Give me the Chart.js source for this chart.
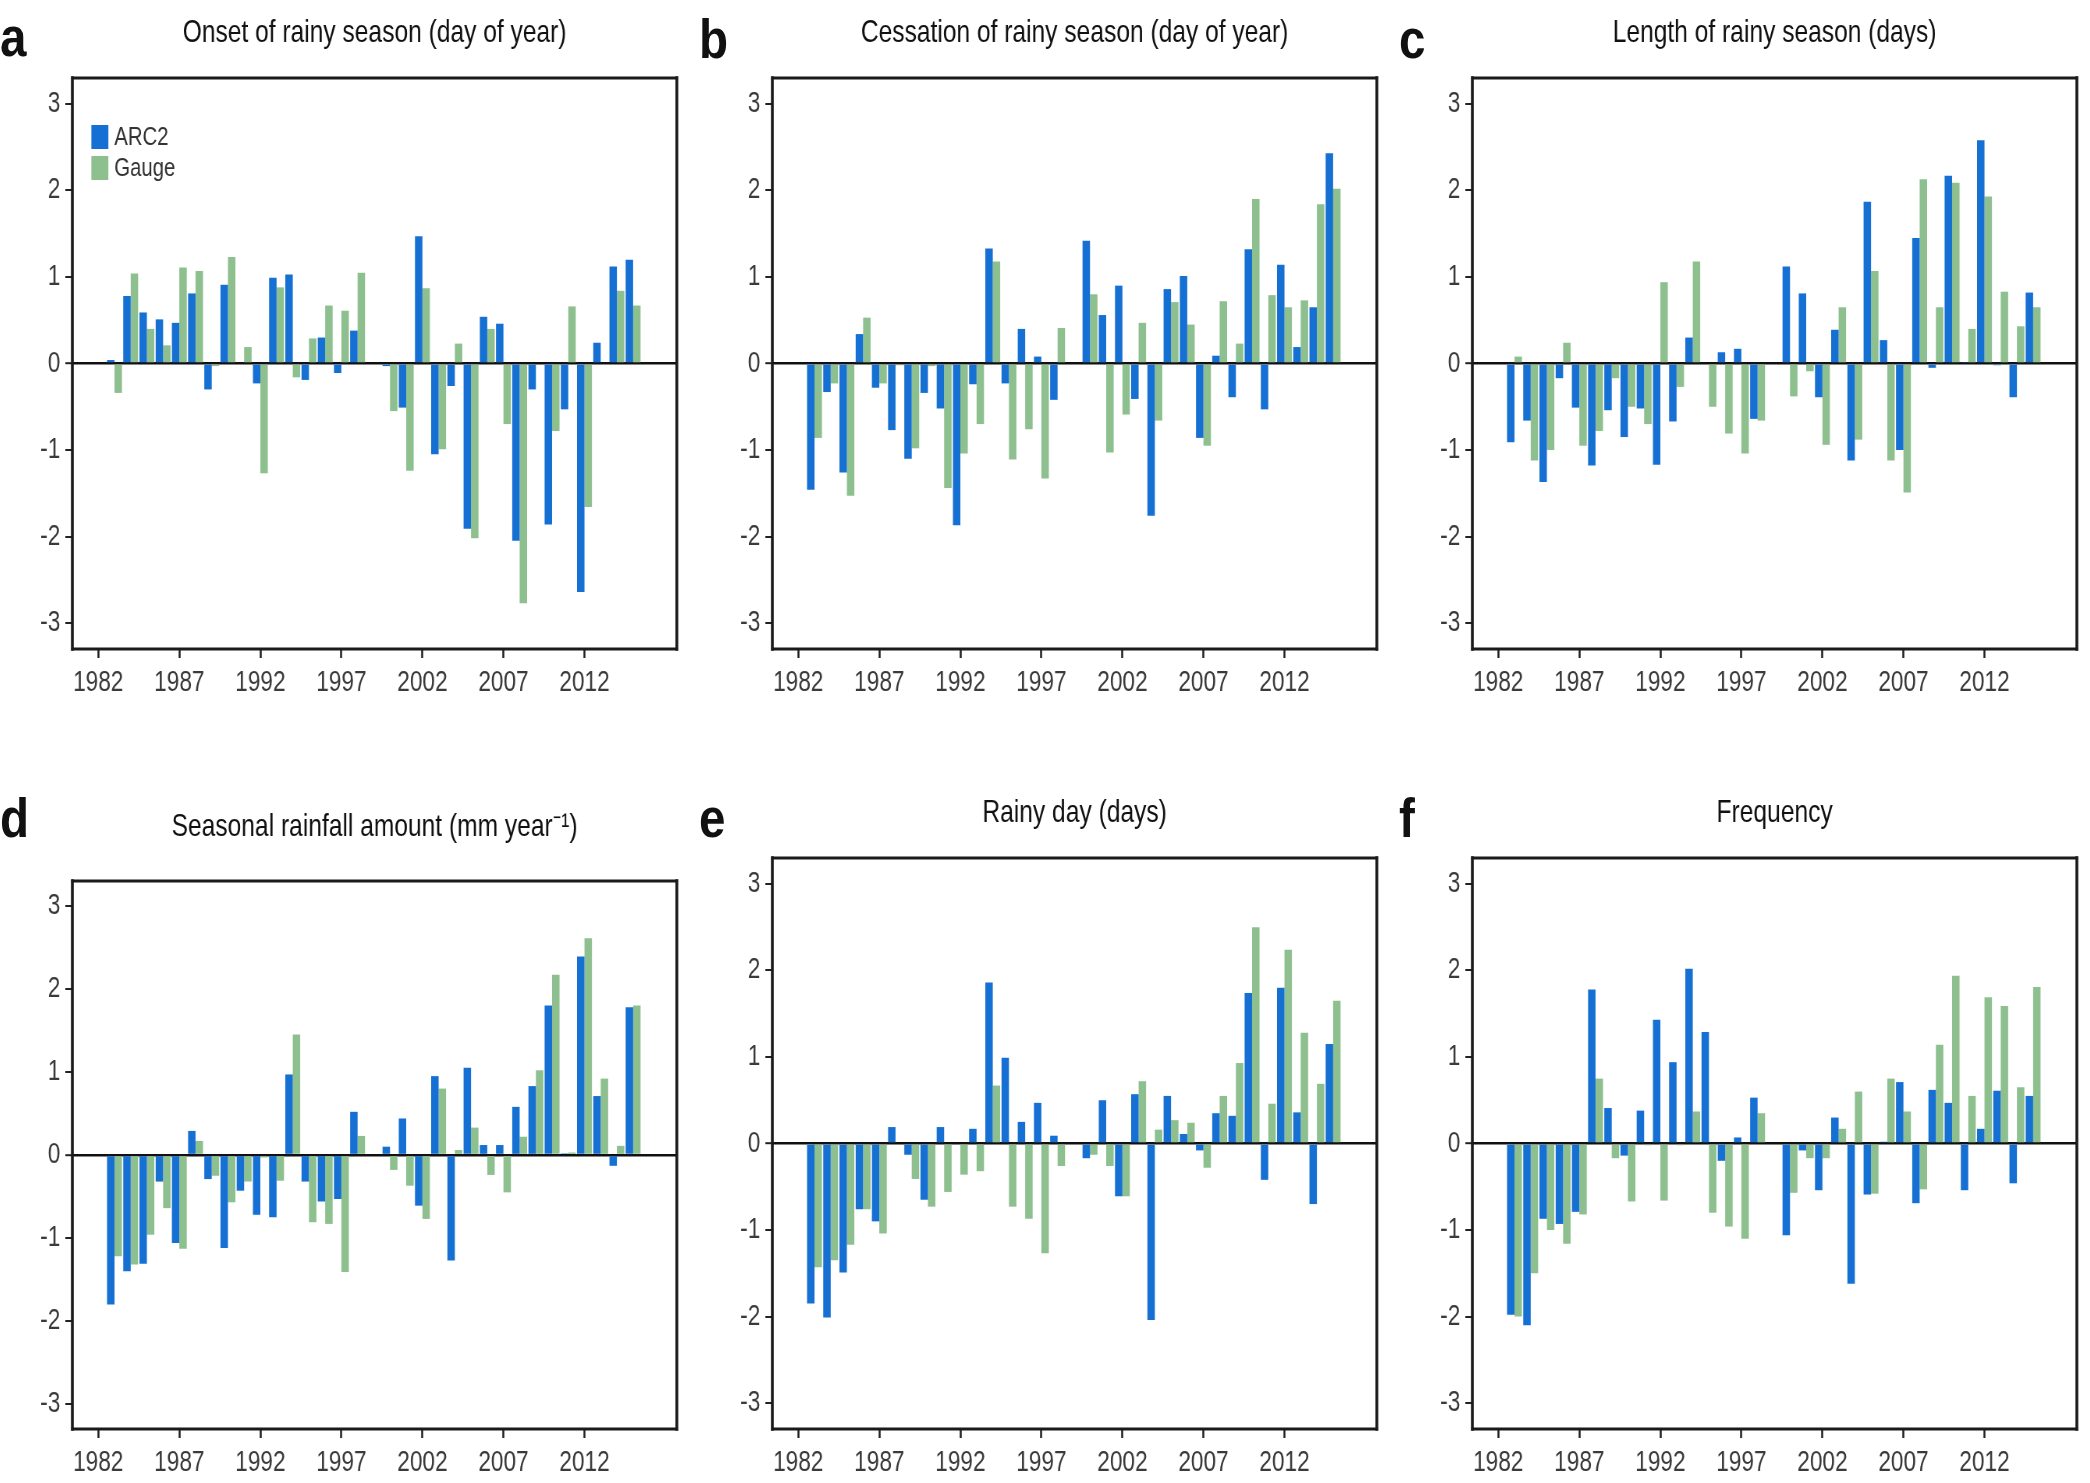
<!DOCTYPE html>
<html>
<head>
<meta charset="utf-8">
<script src="https://cdn.jsdelivr.net/npm/chart.js@4.4.1/dist/chart.umd.min.js"></script>
<style>
  body { margin: 0; background: #fff; width: 2090px; height: 1483px; position: relative; overflow: hidden; font-family: "Liberation Sans", Arial, sans-serif; }
  canvas { position: absolute; }
  .letter { position: absolute; font-weight: bold; font-size: 56px; line-height: 56px; color: #111; transform: scaleX(0.85); transform-origin: left top; }
</style>
</head>
<body>
<div class="letter" style="left:0px;top:9px">a</div>
<div class="letter" style="left:699px;top:11px">b</div>
<div class="letter" style="left:1399px;top:11px">c</div>
<div class="letter" style="left:0px;top:790px">d</div>
<div class="letter" style="left:699px;top:790px">e</div>
<div class="letter" style="left:1399px;top:790px">f</div>

<canvas id="chartA"></canvas>
<canvas id="chartB"></canvas>
<canvas id="chartC"></canvas>
<canvas id="chartD"></canvas>
<canvas id="chartE"></canvas>
<canvas id="chartF"></canvas>

<script>
// data, 1983-2015 standardized anomalies
const years = [1983, 1984, 1985, 1986, 1987, 1988, 1989, 1990, 1991, 1992, 1993, 1994, 1995, 1996, 1997, 1998, 1999,
  2000, 2001, 2002, 2003, 2004, 2005, 2006, 2007, 2008, 2009, 2010, 2011, 2012, 2013, 2014, 2015];
const yearTicks = [1982, 1987, 1992, 1997, 2002, 2007, 2012];
const valueTicks = [-3, -2, -1, 0, 1, 2, 3];
const seriesNames = ['ARC2', 'Gauge'];

const onsetArc2 = [0.04, 0.78, 0.59, 0.51, 0.47, 0.81, -0.30, 0.91, 0, -0.23, 0.99, 1.03, -0.19, 0.30, -0.11, 0.38, 0,
  -0.03, -0.51, 1.47, -1.05, -0.26, -1.91, 0.54, 0.46, -2.05, -0.30, -1.86, -0.53, -2.64, 0.24, 1.12, 1.20];
const onsetGauge = [-0.34, 1.04, 0.40, 0.21, 1.11, 1.07, -0.03, 1.23, 0.19, -1.27, 0.88, -0.16, 0.29, 0.67, 0.61, 1.05, 0,
  -0.55, -1.24, 0.87, -0.99, 0.23, -2.02, 0.40, -0.70, -2.77, 0, -0.78, 0.66, -1.66, 0, 0.84, 0.67];

const cessationArc2 = [-1.46, -0.33, -1.26, 0.34, -0.28, -0.77, -1.10, -0.34, -0.52, -1.87, -0.24, 1.33, -0.23, 0.40, 0.08, -0.42, 0,
  1.42, 0.56, 0.90, -0.41, -1.76, 0.86, 1.01, -0.86, 0.09, -0.39, 1.32, -0.53, 1.14, 0.19, 0.65, 2.43];
const cessationGauge = [-0.86, -0.23, -1.53, 0.53, -0.23, -0.02, -0.98, -0.03, -1.44, -1.04, -0.70, 1.18, -1.11, -0.76, -1.33, 0.41, 0,
  0.80, -1.03, -0.59, 0.47, -0.66, 0.71, 0.45, -0.95, 0.72, 0.23, 1.90, 0.79, 0.65, 0.73, 1.84, 2.02];

const lengthArc2 = [-0.91, -0.66, -1.37, -0.17, -0.51, -1.18, -0.54, -0.85, -0.52, -1.17, -0.67, 0.30, 0, 0.13, 0.17, -0.64, 0,
  1.12, 0.81, -0.39, 0.39, -1.12, 1.87, 0.27, -1.00, 1.45, -0.05, 2.17, 0.01, 2.58, -0.02, -0.39, 0.82];
const lengthGauge = [0.08, -1.12, -1.00, 0.24, -0.95, -0.78, -0.17, -0.50, -0.70, 0.94, -0.27, 1.18, -0.50, -0.81, -1.04, -0.66, 0,
  -0.38, -0.09, -0.94, 0.65, -0.88, 1.07, -1.12, -1.49, 2.13, 0.65, 2.09, 0.40, 1.93, 0.83, 0.43, 0.65];

const rainfallArc2 = [-1.80, -1.40, -1.31, -0.32, -1.06, 0.29, -0.29, -1.12, -0.43, -0.72, -0.75, 0.97, -0.32, -0.56, -0.53, 0.52, 0,
  0.10, 0.44, -0.61, 0.95, -1.27, 1.05, 0.12, 0.12, 0.58, 0.83, 1.80, 0.02, 2.39, 0.71, -0.13, 1.78];
const rainfallGauge = [-1.22, -1.32, -0.96, -0.64, -1.13, 0.17, -0.25, -0.57, -0.32, -0.03, -0.31, 1.45, -0.81, -0.83, -1.41, 0.23, 0,
  -0.18, -0.37, -0.77, 0.80, 0.06, 0.33, -0.24, -0.45, 0.22, 1.02, 2.17, 0.03, 2.61, 0.92, 0.11, 1.80];

const rainyArc2 = [-1.85, -2.01, -1.49, -0.76, -0.90, 0.19, -0.13, -0.65, 0.19, 0, 0.17, 1.86, 0.99, 0.25, 0.47, 0.09, 0,
  -0.17, 0.50, -0.61, 0.57, -2.04, 0.55, 0.11, -0.08, 0.35, 0.32, 1.74, -0.42, 1.80, 0.36, -0.70, 1.15];
const rainyGauge = [-1.43, -1.35, -1.17, -0.76, -1.04, 0, -0.41, -0.73, -0.56, -0.36, -0.32, 0.67, -0.73, -0.87, -1.27, -0.26, 0,
  -0.13, -0.26, -0.61, 0.72, 0.16, 0.27, 0.24, -0.28, 0.55, 0.93, 2.50, 0.46, 2.24, 1.28, 0.69, 1.65];

const freqArc2 = [-1.98, -2.10, -0.87, -0.93, -0.79, 1.78, 0.41, -0.14, 0.38, 1.43, 0.94, 2.02, 1.29, -0.20, 0.07, 0.53, 0,
  -1.06, -0.08, -0.54, 0.30, -1.62, -0.59, 0.02, 0.71, -0.69, 0.62, 0.47, -0.54, 0.17, 0.61, -0.46, 0.55];
const freqGauge = [-2.00, -1.50, -1.00, -1.16, -0.82, 0.75, -0.17, -0.67, -0.02, -0.66, -0.02, 0.37, -0.80, -0.96, -1.10, 0.35, 0,
  -0.57, -0.17, -0.17, 0.17, 0.60, -0.58, 0.75, 0.37, -0.53, 1.14, 1.94, 0.55, 1.69, 1.59, 0.65, 1.81];

const blue = '#1670d3';
const green = '#8dc08e';
const FONT = '"Liberation Sans", Arial, sans-serif';
// the original lettering is condensed: canvases are drawn wider and squeezed back by css
const SQ = 0.78;

// frame, title and (optional) legend drawn around the chart area
const panelDeco = {
  id: 'panelDeco',
  afterDraw(chart, args, opts) {
    const ctx = chart.ctx;
    const a = chart.chartArea;
    ctx.save();
    ctx.strokeStyle = '#1a1a1a';
    ctx.lineCap = 'square';
    ctx.lineWidth = 2.8;
    ctx.beginPath();
    ctx.moveTo(a.left, a.top); ctx.lineTo(a.right, a.top);
    ctx.moveTo(a.left, a.bottom); ctx.lineTo(a.right, a.bottom);
    ctx.stroke();
    ctx.lineWidth = 2.8 / SQ;
    ctx.beginPath();
    ctx.moveTo(a.left, a.top); ctx.lineTo(a.left, a.bottom);
    ctx.moveTo(a.right, a.top); ctx.lineTo(a.right, a.bottom);
    ctx.stroke();

    ctx.fillStyle = '#111';
    ctx.font = '31.5px ' + FONT;
    ctx.textAlign = 'center';
    ctx.textBaseline = 'middle';
    ctx.fillText(opts.title, (a.left + a.right) / 2, a.top - opts.gap);

    if (opts.legend) {
      ctx.font = '26px ' + FONT;
      ctx.textAlign = 'left';
      chart.data.datasets.forEach((ds, i) => {
        const y = a.top + 47 + i * 31;
        ctx.fillStyle = ds.backgroundColor;
        ctx.fillRect(a.left + 19 / SQ, y, 17 / SQ, 24);
        ctx.fillStyle = '#333';
        ctx.fillText(ds.label, a.left + 42 / SQ, y + 13);
      });
    }
    ctx.restore();
  }
};

function makePanel(id, frame, title, gap, arc2, gauge, legend) {
  const canvas = document.getElementById(id);
  const w = frame.r - frame.l + 90;
  const h = frame.b - frame.t + 160;
  canvas.width = Math.round(w / SQ);
  canvas.height = h;
  canvas.style.left = (frame.l - 80) + 'px';
  canvas.style.top = (frame.t - 90) + 'px';
  canvas.style.width = w + 'px';
  canvas.style.height = h + 'px';

  return new Chart(canvas.getContext('2d'), {
    type: 'bar',
    data: {
      labels: years,
      datasets: [
        { label: seriesNames[0], data: arc2, backgroundColor: blue, categoryPercentage: 0.92, barPercentage: 1 },
        { label: seriesNames[1], data: gauge, backgroundColor: green, categoryPercentage: 0.92, barPercentage: 1 }
      ]
    },
    options: {
      responsive: false,
      animation: false,
      devicePixelRatio: 1,
      layout: { padding: { left: 0, top: 90, right: Math.round(w / SQ) - Math.round((frame.r - frame.l + 80) / SQ), bottom: 0 } },
      plugins: {
        legend: { display: false },
        tooltip: { enabled: false },
        panelDeco: { title: title, gap: gap, legend: legend }
      },
      scales: {
        x: {
          type: 'linear',
          min: 1980.4,
          max: 2017.7,
          offset: false,
          afterBuildTicks: s => { s.ticks = yearTicks.map(v => ({ value: v })); },
          afterFit: s => { s.height = 70; },
          ticks: { callback: v => String(v), font: { size: 29, family: FONT }, color: '#3a3a3a', padding: 8, maxRotation: 0, autoSkip: false },
          grid: { offset: false, drawOnChartArea: false, tickLength: 9, tickColor: '#222', tickWidth: 2 / SQ },
          border: { display: false }
        },
        y: {
          min: -3.3,
          max: 3.3,
          z: 1,
          afterBuildTicks: s => { s.ticks = valueTicks.map(v => ({ value: v })); },
          afterFit: s => { s.width = Math.round(80 / SQ); },
          ticks: { font: { size: 29, family: FONT }, color: '#3a3a3a', padding: 5 / SQ },
          grid: {
            color: c => (c.tick && c.tick.value === 0) ? '#111' : 'rgba(0,0,0,0)',
            lineWidth: c => (c.tick && c.tick.value === 0) ? 2.4 : 0,
            tickLength: 7 / SQ, tickColor: '#222', tickWidth: 2
          },
          border: { display: false }
        }
      }
    },
    plugins: [panelDeco]
  });
}

makePanel('chartA', { l: 72, t: 78, r: 677, b: 649 }, 'Onset of rainy season (day of year)', 45, onsetArc2, onsetGauge, true);
makePanel('chartB', { l: 772, t: 78, r: 1377, b: 649 }, 'Cessation of rainy season (day of year)', 45, cessationArc2, cessationGauge, false);
makePanel('chartC', { l: 1472, t: 78, r: 2077, b: 649 }, 'Length of rainy season (days)', 45, lengthArc2, lengthGauge, false);
makePanel('chartD', { l: 72, t: 881, r: 677, b: 1429 }, 'Seasonal rainfall amount (mm year\u207B\u00B9)', 54, rainfallArc2, rainfallGauge, false);
makePanel('chartE', { l: 772, t: 858, r: 1377, b: 1429 }, 'Rainy day (days)', 45, rainyArc2, rainyGauge, false);
makePanel('chartF', { l: 1472, t: 858, r: 2077, b: 1429 }, 'Frequency', 45, freqArc2, freqGauge, false);
</script>
</body>
</html>
